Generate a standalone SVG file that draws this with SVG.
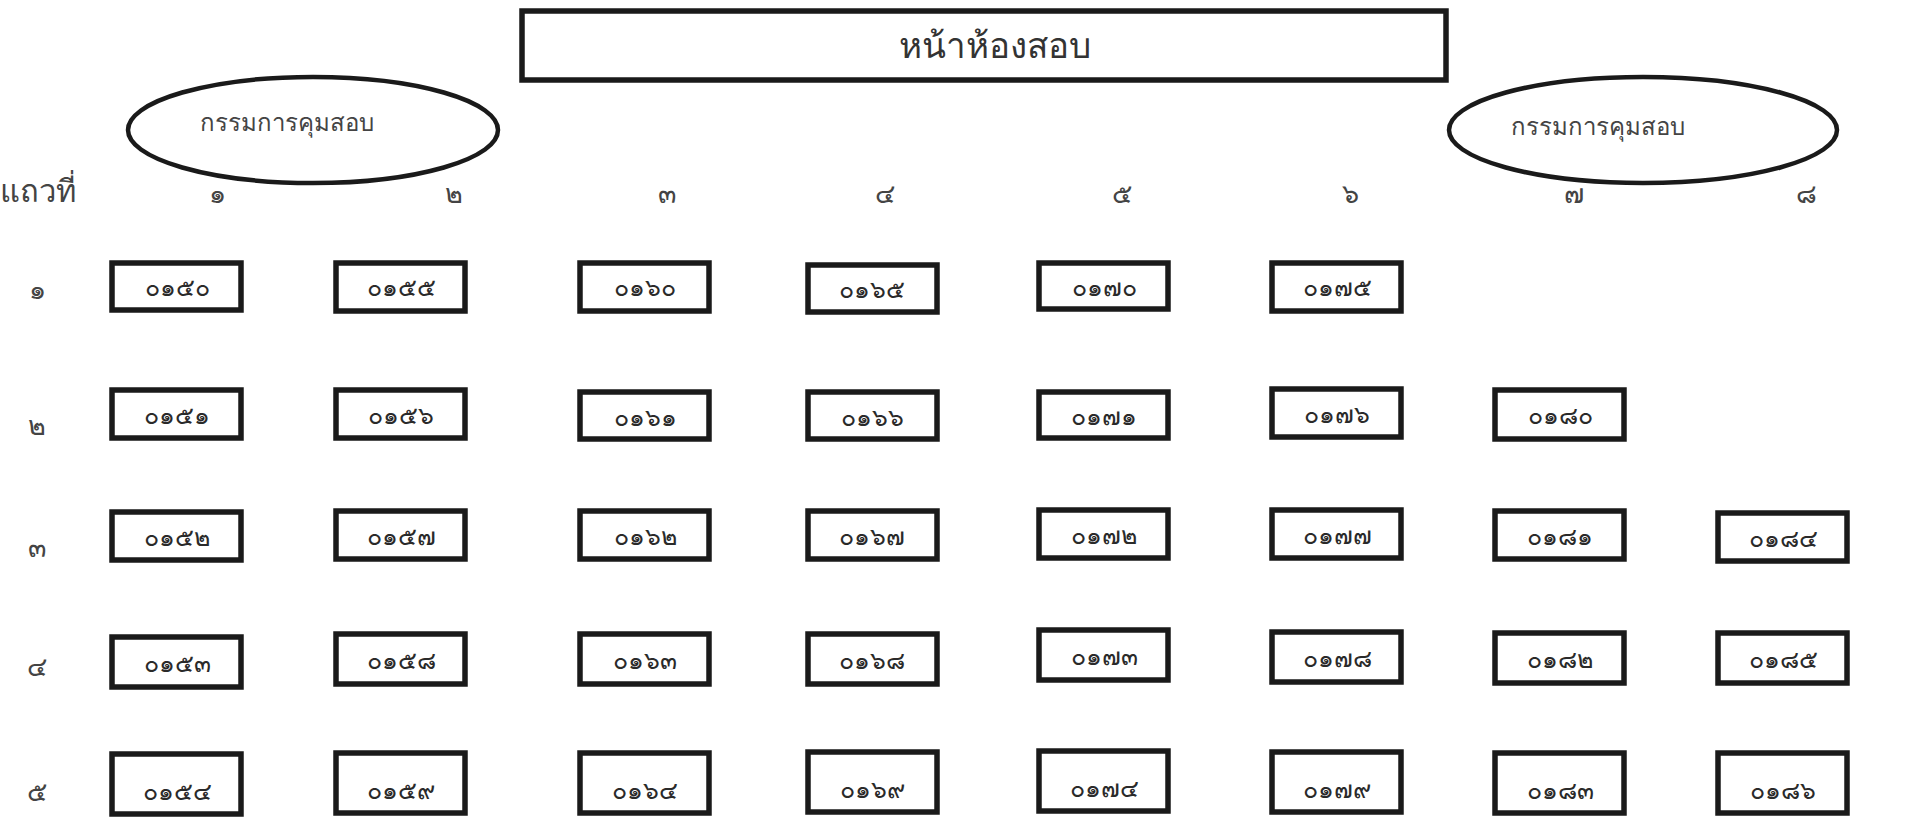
<svg xmlns="http://www.w3.org/2000/svg" width="1913" height="824" viewBox="0 0 1913 824">
<style>
.bx{fill:#fff;stroke:#1a1a1a;stroke-width:5.5}
.el{fill:#fff;stroke:#1a1a1a;stroke-width:4.5}
.num{font-family:"Noto Sans","DejaVu Sans",sans-serif;font-size:25px;font-weight:normal;fill:#2a2a2a;text-anchor:middle;dominant-baseline:central}
.lbl{font-family:"Noto Sans","DejaVu Sans",sans-serif;font-size:27px;fill:#444;text-anchor:middle;dominant-baseline:central}
.pr{font-family:"Noto Sans","DejaVu Sans",sans-serif;font-size:24px;fill:#444;text-anchor:middle;dominant-baseline:central}
.row{font-family:"Noto Sans","DejaVu Sans",sans-serif;font-size:31px;fill:#444;text-anchor:middle;dominant-baseline:central}
.ttl{font-family:"Noto Sans","DejaVu Sans",sans-serif;font-size:35px;fill:#333;text-anchor:middle;dominant-baseline:central}
</style>
<rect width="1913" height="824" fill="#fff"/>
<g id="title"><rect class="bx" x="522" y="11" width="924" height="69"/><text class="ttl" x="995" y="44">หน้าห้องสอบ</text></g>
<g id="proctor-left"><ellipse class="el" cx="313" cy="130" rx="185" ry="53"/><text class="pr" x="287" y="121">กรรมการคุมสอบ</text></g>
<g id="proctor-right"><ellipse class="el" cx="1643" cy="130" rx="194" ry="53"/><text class="pr" x="1598" y="125">กรรมการคุมสอบ</text></g>
<g id="col-labels">
<text class="row" x="38" y="190">แถวที่</text>
<text class="lbl" x="217" y="192">๑</text>
<text class="lbl" x="454" y="192">๒</text>
<text class="lbl" x="667" y="192">๓</text>
<text class="lbl" x="885" y="192">๔</text>
<text class="lbl" x="1122" y="192">๕</text>
<text class="lbl" x="1350" y="192">๖</text>
<text class="lbl" x="1574" y="192">๗</text>
<text class="lbl" x="1806" y="192">๘</text>
</g>
<g id="row-labels">
<text class="lbl" x="37" y="288">๑</text>
<text class="lbl" x="37" y="424">๒</text>
<text class="lbl" x="37" y="546">๓</text>
<text class="lbl" x="37" y="665">๔</text>
<text class="lbl" x="37" y="790">๕</text>
</g>
<g id="seats">
<g id="s0150"><rect class="bx" x="112" y="263" width="129" height="47"/><text class="num" x="177" y="286">๐๑๕๐</text></g>
<g id="s0155"><rect class="bx" x="336" y="263" width="129" height="48"/><text class="num" x="401" y="286">๐๑๕๕</text></g>
<g id="s0160"><rect class="bx" x="580" y="263" width="129" height="48"/><text class="num" x="645" y="286">๐๑๖๐</text></g>
<g id="s0165"><rect class="bx" x="808" y="265" width="129" height="47"/><text class="num" x="872" y="288">๐๑๖๕</text></g>
<g id="s0170"><rect class="bx" x="1039" y="263" width="129" height="46"/><text class="num" x="1104" y="286">๐๑๗๐</text></g>
<g id="s0175"><rect class="bx" x="1272" y="263" width="129" height="48"/><text class="num" x="1337" y="286">๐๑๗๕</text></g>

<g id="s0151"><rect class="bx" x="112" y="390" width="129" height="48"/><text class="num" x="177" y="414">๐๑๕๑</text></g>
<g id="s0156"><rect class="bx" x="336" y="390" width="129" height="48"/><text class="num" x="401" y="414">๐๑๕๖</text></g>
<g id="s0161"><rect class="bx" x="580" y="392" width="129" height="47"/><text class="num" x="645" y="416">๐๑๖๑</text></g>
<g id="s0166"><rect class="bx" x="808" y="392" width="129" height="47"/><text class="num" x="872" y="416">๐๑๖๖</text></g>
<g id="s0171"><rect class="bx" x="1039" y="392" width="129" height="46"/><text class="num" x="1104" y="415">๐๑๗๑</text></g>
<g id="s0176"><rect class="bx" x="1272" y="389" width="129" height="48"/><text class="num" x="1337" y="413">๐๑๗๖</text></g>
<g id="s0180"><rect class="bx" x="1495" y="390" width="129" height="49"/><text class="num" x="1560" y="414">๐๑๘๐</text></g>

<g id="s0152"><rect class="bx" x="112" y="512" width="129" height="48"/><text class="num" x="177" y="536">๐๑๕๒</text></g>
<g id="s0157"><rect class="bx" x="336" y="511" width="129" height="48"/><text class="num" x="401" y="535">๐๑๕๗</text></g>
<g id="s0162"><rect class="bx" x="580" y="511" width="129" height="48"/><text class="num" x="645" y="535">๐๑๖๒</text></g>
<g id="s0167"><rect class="bx" x="808" y="511" width="129" height="48"/><text class="num" x="872" y="535">๐๑๖๗</text></g>
<g id="s0172"><rect class="bx" x="1039" y="510" width="129" height="48"/><text class="num" x="1104" y="534">๐๑๗๒</text></g>
<g id="s0177"><rect class="bx" x="1272" y="510" width="129" height="48"/><text class="num" x="1337" y="534">๐๑๗๗</text></g>
<g id="s0181"><rect class="bx" x="1495" y="511" width="129" height="48"/><text class="num" x="1560" y="535">๐๑๘๑</text></g>
<g id="s0184"><rect class="bx" x="1718" y="513" width="129" height="48"/><text class="num" x="1783" y="537">๐๑๘๔</text></g>

<g id="s0153"><rect class="bx" x="112" y="637" width="129" height="50"/><text class="num" x="177" y="662">๐๑๕๓</text></g>
<g id="s0158"><rect class="bx" x="336" y="634" width="129" height="50"/><text class="num" x="401" y="659">๐๑๕๘</text></g>
<g id="s0163"><rect class="bx" x="580" y="634" width="129" height="50"/><text class="num" x="645" y="659">๐๑๖๓</text></g>
<g id="s0168"><rect class="bx" x="808" y="634" width="129" height="50"/><text class="num" x="872" y="659">๐๑๖๘</text></g>
<g id="s0173"><rect class="bx" x="1039" y="630" width="129" height="50"/><text class="num" x="1104" y="655">๐๑๗๓</text></g>
<g id="s0178"><rect class="bx" x="1272" y="632" width="129" height="50"/><text class="num" x="1337" y="657">๐๑๗๘</text></g>
<g id="s0182"><rect class="bx" x="1495" y="633" width="129" height="50"/><text class="num" x="1560" y="658">๐๑๘๒</text></g>
<g id="s0185"><rect class="bx" x="1718" y="633" width="129" height="50"/><text class="num" x="1783" y="658">๐๑๘๕</text></g>

<g id="s0154"><rect class="bx" x="112" y="754" width="129" height="60"/><text class="num" x="177" y="790">๐๑๕๔</text></g>
<g id="s0159"><rect class="bx" x="336" y="753" width="129" height="60"/><text class="num" x="401" y="789">๐๑๕๙</text></g>
<g id="s0164"><rect class="bx" x="580" y="753" width="129" height="60"/><text class="num" x="645" y="789">๐๑๖๔</text></g>
<g id="s0169"><rect class="bx" x="808" y="752" width="129" height="60"/><text class="num" x="872" y="788">๐๑๖๙</text></g>
<g id="s0174"><rect class="bx" x="1039" y="751" width="129" height="60"/><text class="num" x="1104" y="787">๐๑๗๔</text></g>
<g id="s0179"><rect class="bx" x="1272" y="752" width="129" height="60"/><text class="num" x="1337" y="788">๐๑๗๙</text></g>
<g id="s0183"><rect class="bx" x="1495" y="753" width="129" height="60"/><text class="num" x="1560" y="789">๐๑๘๓</text></g>
<g id="s0186"><rect class="bx" x="1718" y="753" width="129" height="60"/><text class="num" x="1783" y="789">๐๑๘๖</text></g>
</g>
</svg>
